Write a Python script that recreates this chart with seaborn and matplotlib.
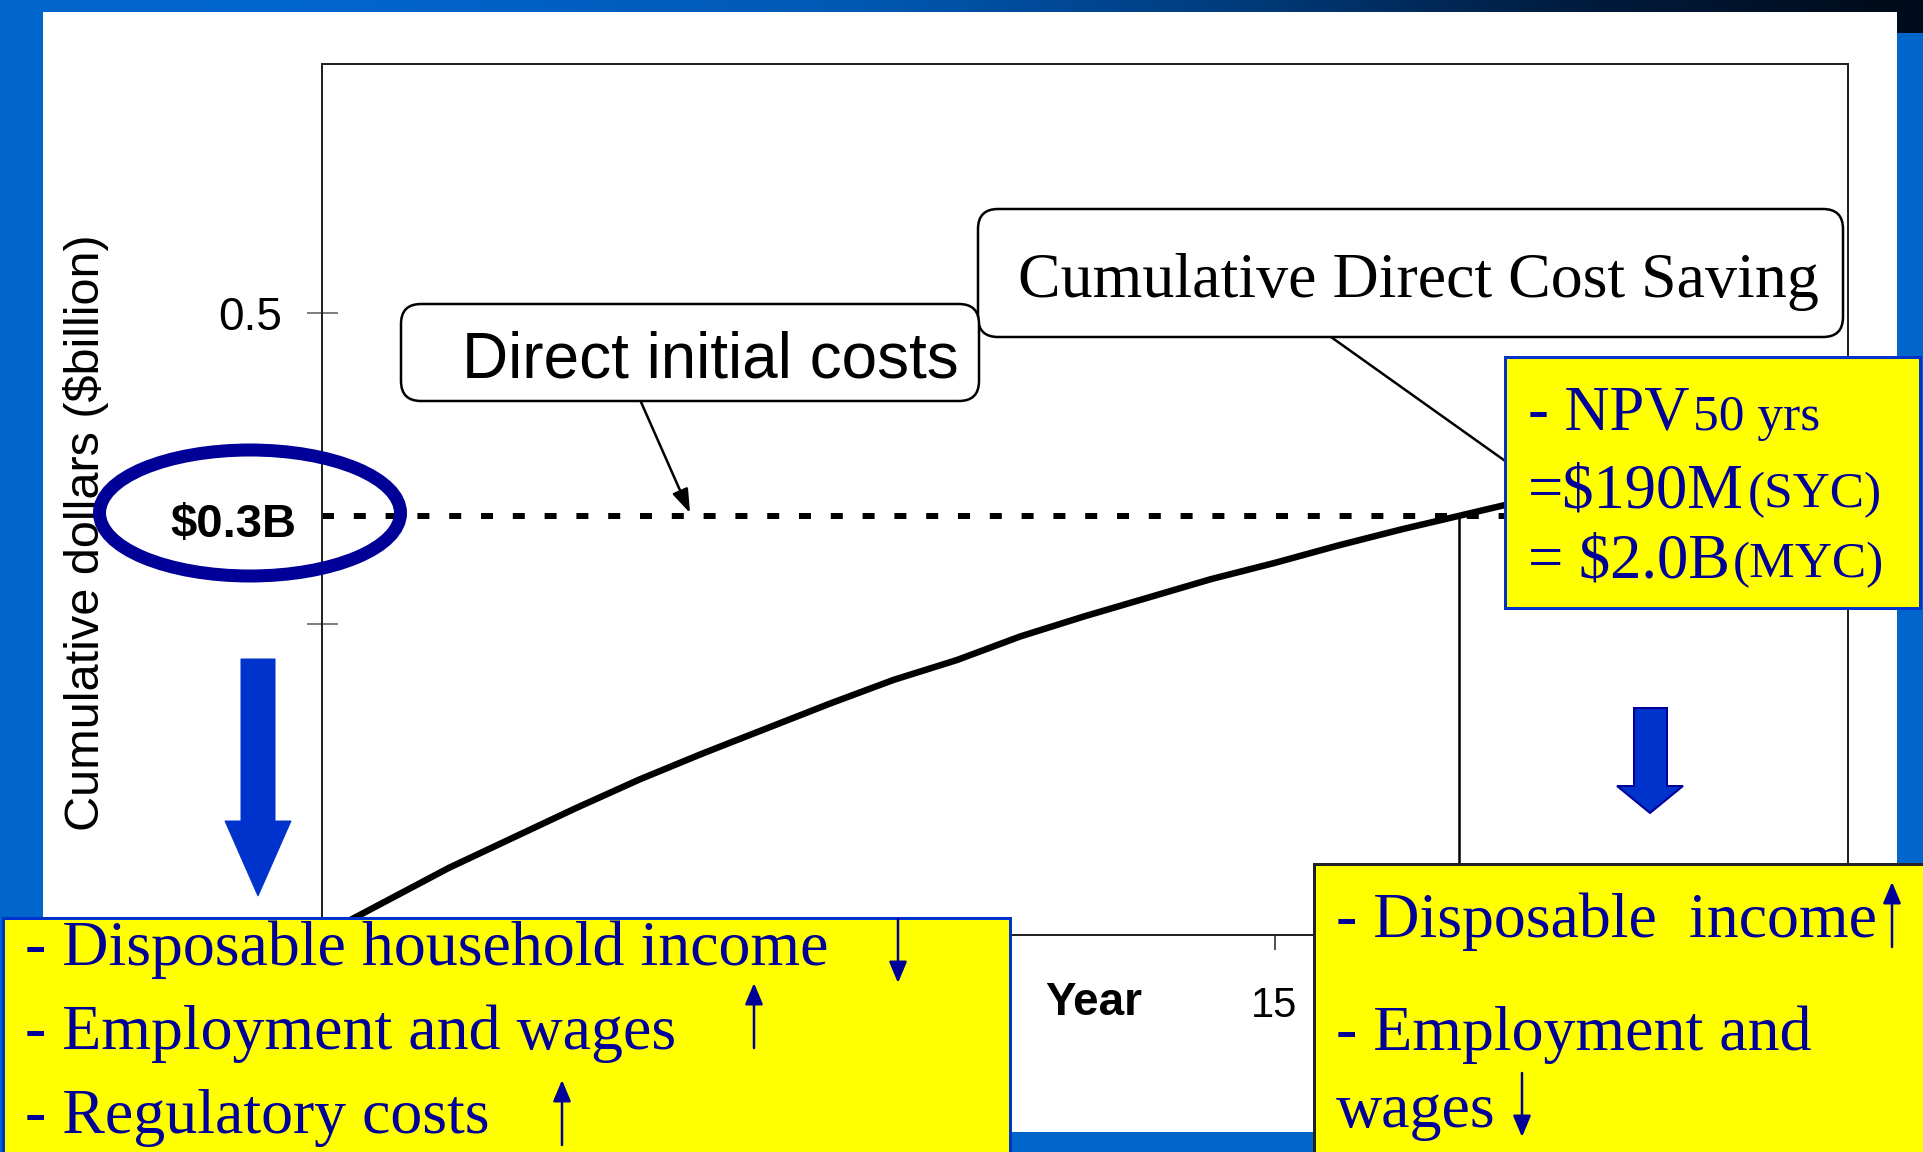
import numpy as np
import matplotlib
matplotlib.use("Agg")
import matplotlib.pyplot as plt
import seaborn as sns
from matplotlib.patches import Rectangle, FancyBboxPatch, Ellipse, Polygon, FancyArrowPatch
from matplotlib.colors import LinearSegmentedColormap

# ---------------- data ----------------
years = [0, 1, 2, 3, 4, 5, 6, 7, 8, 9, 10, 11, 12, 13, 14, 15, 16, 17, 18, 19]
cumulative_saving = [0.0, 0.027, 0.054, 0.078, 0.102, 0.125, 0.146, 0.166, 0.186, 0.205,
                     0.221, 0.240, 0.256, 0.271, 0.286, 0.299, 0.313, 0.326, 0.338, 0.350]
initial_cost = 0.337          # "$0.3B" dashed reference level
breakeven_year = 17.9
x_ticks = [0, 5, 10, 15, 20]
x_tick_labels = ["", "", "", "15", ""]     # the others sit under the text boxes
y_ticks = [0.25, 0.5]
y_tick_labels = ["", "0.5"]
x_label = "Year"
y_label = "Cumulative dollars (\\$billion)"

sns.set_style("white")
plt.rcParams["font.family"] = ["Liberation Sans", "DejaVu Sans"]

W, H = 1923, 1152
fig = plt.figure(figsize=(W / 100, H / 100), dpi=100, facecolor="white")


def pt(p):
    """pixels -> points at dpi 100"""
    return p * 72.0 / 100.0


SERIF = ["Liberation Serif", "DejaVu Serif"]
NAVY = "#000099"
YELLOW = "#FFFF00"
BLUE = "#0066CC"
ARROWBLUE = "#0033CC"

# ---------------- slide frame ----------------
bg = fig.add_axes([0, 0, 1, 1], zorder=0)
cmap = LinearSegmentedColormap.from_list(
    "topbar", [(0, "#0066CC"), (0.15, "#0066D0"), (0.45, "#0058B2"),
               (0.65, "#003A7A"), (0.82, "#001C3E"), (1, "#000A18")])
bg.imshow(np.linspace(0, 1, 512).reshape(1, -1), extent=(0, W, 12, 0),
          cmap=cmap, aspect="auto")
bg.add_patch(Rectangle((0, 0), 43, H, color=BLUE, lw=0))
bg.add_patch(Rectangle((1897, 0), W - 1897, H, color=BLUE, lw=0))
bg.add_patch(Rectangle((1897, 0), W - 1897, 33, color="#000C1E", lw=0))
bg.add_patch(Rectangle((0, 1132), W, 20, color=BLUE, lw=0))
bg.set_xlim(0, W)
bg.set_ylim(H, 0)
bg.axis("off")

# ---------------- main chart ----------------
L, R, T, B = 322, 1848, 64, 935
ax = fig.add_axes([L / W, 1 - B / H, (R - L) / W, (B - T) / H], zorder=1)
sns.lineplot(x=years, y=cumulative_saving, ax=ax, color="black", lw=pt(6.5))
ax.axhline(initial_cost, color="black", lw=pt(6), ls=(0, (2.0, 3.3)))
ax.vlines(breakeven_year, 0, initial_cost, color="black", lw=pt(2.5))

ax.set_xlim(0, (R - L) / 63.5)
ax.set_ylim(0, 0.70)
ax.set_xticks(x_ticks)
ax.set_xticklabels(x_tick_labels)
ax.set_yticks(y_ticks)
ax.set_yticklabels(y_tick_labels)
ax.tick_params(axis="y", left=True, direction="inout", length=pt(31), width=pt(2),
               color="#808080", labelcolor="black", labelsize=33, pad=pt(24))
ax.tick_params(axis="x", bottom=True, direction="out", length=pt(15), width=pt(2),
               color="#555555", labelcolor="black", labelsize=30, pad=pt(36))
for s in ax.spines.values():
    s.set_color("#222222")
    s.set_linewidth(pt(2))

ax.set_xlabel(x_label, fontsize=33, fontweight="bold", color="black",
              va="center", ha="center")
ax.xaxis.set_label_coords((1094 - L) / (R - L), (B - 1003) / (B - T))
ax.set_ylabel(y_label, fontsize=35, color="black", va="center", ha="center")
ax.yaxis.set_label_coords((86 - L) / (R - L), (B - 533) / (B - T))

# ---------------- overlay (callouts, boxes, arrows) ----------------
ov = fig.add_axes([0, 0, 1, 1], zorder=3)
ov.set_xlim(0, W)
ov.set_ylim(H, 0)
ov.axis("off")

# callout: cumulative direct cost saving
ov.plot([1331, 1560], [337, 500], color="black", lw=pt(2.5), zorder=1)
ov.add_patch(FancyBboxPatch((978, 209), 865, 128,
                            boxstyle="round,pad=0,rounding_size=20",
                            fc="white", ec="black", lw=pt(2.5), zorder=2))
ov.text(1018, 297, "Cumulative Direct Cost Saving", fontsize=46,
        family=SERIF, color="black", ha="left", va="baseline", zorder=3)

# callout: direct initial costs
ov.add_patch(FancyBboxPatch((401, 304), 578, 97,
                            boxstyle="round,pad=0,rounding_size=20",
                            fc="white", ec="black", lw=pt(2.5), zorder=2))
ov.text(462, 378, "Direct initial costs", fontsize=46, color="black",
        ha="left", va="baseline", zorder=3)
ov.add_patch(FancyArrowPatch((641, 402), (690, 513),
                             arrowstyle="-|>,head_length=1.0,head_width=0.35",
                             mutation_scale=pt(20), color="black",
                             lw=pt(2.5), shrinkA=0, shrinkB=0, zorder=3))

# NPV box
ov.add_patch(Rectangle((1505, 357), 415, 251, fc=YELLOW, ec=ARROWBLUE,
                       lw=pt(3), zorder=4))
tkw = dict(family=SERIF, color=NAVY, ha="left", va="baseline", zorder=5)
ov.text(1528, 430, "- NPV", fontsize=45, **tkw)
ov.text(1693, 430, "50 yrs", fontsize=37, **tkw)
ov.text(1528, 507, "=\\$190M", fontsize=45, **tkw)
ov.text(1748, 507, "(SYC)", fontsize=37, **tkw)
ov.text(1528, 577, "= \\$2.0B", fontsize=45, **tkw)
ov.text(1733, 577, "(MYC)", fontsize=37, **tkw)

# $0.3B ellipse
ov.add_patch(Ellipse((250, 513), 301, 126, fill=False, ec=NAVY,
                     lw=pt(13), zorder=4))
ov.text(170, 537, "\\$0.3B", fontsize=34, fontweight="bold", color="black",
        ha="left", va="baseline", zorder=5)

# big blue arrows
ov.add_patch(Polygon([(241, 659), (275, 659), (275, 821), (291, 821),
                      (258, 896), (225, 821), (241, 821)], closed=True,
                     fc=ARROWBLUE, ec=ARROWBLUE, lw=pt(1), zorder=4))
ov.add_patch(Polygon([(1634, 708), (1667, 708), (1667, 786), (1683, 786),
                      (1650, 813), (1617, 786), (1634, 786)], closed=True,
                     fc=ARROWBLUE, ec=NAVY, lw=pt(2), zorder=4))

# bottom-left yellow box
ov.add_patch(Rectangle((3, 918), 1007, 250, fc=YELLOW, ec=ARROWBLUE,
                       lw=pt(3), zorder=6))
bkw = dict(family=SERIF, color=NAVY, ha="left", va="baseline",
           fontsize=46, zorder=7)
ov.text(25, 965, "- Disposable household income", **bkw)
ov.text(25, 1049, "- Employment and wages", **bkw)
ov.text(25, 1133, "- Regulatory costs", **bkw)

# bottom-right yellow box
ov.add_patch(Rectangle((1314, 864), 620, 300, fc=YELLOW, ec="#222222",
                       lw=pt(3), zorder=6))
ov.text(1336, 937, "- Disposable  income", **bkw)
ov.text(1336, 1050, "- Employment and", **bkw)
ov.text(1336, 1127, "wages", **bkw)

# thin arrows
thin = [((898, 919), (898, 983)),
        ((754, 1048), (754, 983)),
        ((562, 1145), (562, 1080)),
        ((1892, 947), (1892, 882)),
        ((1522, 1073), (1522, 1137))]
for a, b in thin:
    ov.add_patch(FancyArrowPatch(a, b,
                                 arrowstyle="-|>,head_length=1.0,head_width=0.42",
                                 mutation_scale=pt(18), color=NAVY,
                                 lw=pt(2.5), shrinkA=0, shrinkB=0, zorder=8))

fig.savefig("out.png", dpi=100, facecolor="white")
